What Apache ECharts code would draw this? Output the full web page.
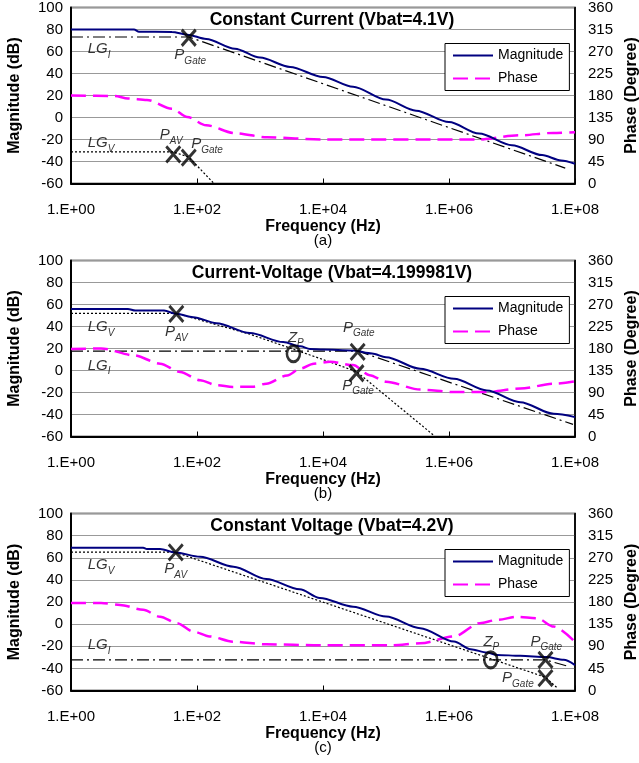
<!DOCTYPE html>
<html><head><meta charset="utf-8">
<script src="https://cdn.jsdelivr.net/npm/echarts@6/dist/echarts.min.js"></script>
<style>html,body{margin:0;padding:0;background:#fff}#c{width:639px;height:763px}</style>
</head><body><div id="c"></div>
<script>
// ---- tick labels ----
const xTickLabels = ['1.E+00','1.E+02','1.E+04','1.E+06','1.E+08'];
const panelTitles = ['Constant Current (Vbat=4.1V)','Current-Voltage (Vbat=4.199981V)','Constant Voltage (Vbat=4.2V)'];
const panelTags = ['(a)','(b)','(c)'];

// ---- panel (a) ----
const magA = [[1,80],[10,80],[12,78],[40,77.8],[70,75.3],[140,71.4],[400,62.5],[1e3,54.5],[3e3,46],[1e4,36.8],[3e4,28],[1e5,16.3],[3e5,6.2],[1e6,-4.2],[3e6,-14.6],[1e7,-25.3],[3e7,-34.2],[6e7,-39],[1e8,-42]];
const phA = [[1,180],[5,179],[8,174],[16,171],[40,153],[70,136],[140,119],[400,103],[1300,94.5],[1e4,90],[3e6,90],[1.3e7,98.5],[4.5e7,103.5],[1e8,105]];
const lgIA = [[1,73.2],[74,73.2],[7e7,-46]];
const lgVA = [[1,-31.3],[42,-31.3],[74,-36],[186,-60]];
const xMarkA = [[74,72.5],[42,-33.5],[74,-36.5]];
const oMarkA = [];
const labelsA = [['LG','I',2.8,62],['P','Gate',78,57],['LG','V',3,-23.4],['P','AV',39,-16],['P','Gate',144,-24.3]];

// ---- panel (b) ----
const magB = [[1,56],[8,56],[10.5,54.5],[30,54.5],[47,51.5],[87,48.5],[204,43],[692,34],[2340,25.8],[4370,22],[6200,19.6],[1e4,19],[3e4,18.2],[6e4,15.5],[1e5,12.1],[3.5e5,1.5],[1.2e6,-7.6],[4e6,-18.2],[1.35e7,-28.8],[4.6e7,-39.4],[1e8,-42.4]];
const phB = [[1,179],[3,180],[10,166],[26,149],[54,132],[112,115],[204,105],[372,101.5],[776,102],[1260,108],[2700,125],[4400,139],[7100,149],[1.3e4,153],[3e4,146],[5.5e4,125.5],[1e5,112],[3.5e5,96],[1.2e6,91],[4e6,91],[1.35e7,98],[4.6e7,108],[1e8,113]];
const lgVB = [[1,52],[47,52],[692,33],[8900,11],[3.4e4,-1],[5.75e5,-59]];
const lgIB = [[1,17.6],[3.6e4,17.6],[9.3e7,-49]];
const xMarkB = [[47,51.5],[3.55e4,17],[3.4e4,-2.5]];
const oMarkB = [[3390,15.2]];
const labelsB = [['LG','V',3,39.4],['P','AV',47,34.8],['LG','I',2.8,4.5],['Z','P',3700,30],['P','Gate',3.7e4,39],['P','Gate',3.6e4,-13.6]];

// ---- panel (c) ----
const magC = [[1,69],[14,69],[16,67.8],[26,67.8],[45,64.8],[112,60.9],[380,51.9],[1260,40.8],[4270,31.5],[8900,23.7],[3e4,15.8],[1e5,6.8],[3.5e5,-3.7],[1.2e6,-15.8],[2.2e6,-22.6],[4e6,-25.7],[5.8e6,-27.8],[1.35e7,-28.7],[3.5e7,-29.8],[6.6e7,-32.3],[1e8,-37]];
const phC = [[1,178],[3,178],[6,174],[14,164],[26,150],[48,137],[87,120],[158,110],[372,99.4],[1260,94],[8900,92],[1.26e5,92],[3.5e5,96],[1.2e6,110],[3.1e6,137],[5.8e6,143.5],[1.2e7,150],[2.5e7,147],[4.6e7,130],[1e8,99]];
const lgVC = [[1,65],[45,65],[3.4e7,-48],[5.3e7,-58]];
const lgIC = [[1,-32.3],[3.4e7,-32.3],[7.6e7,-38]];
const xMarkC = [[46,64.8],[3.4e7,-32.3],[3.4e7,-48.8]];
const oMarkC = [[4.6e6,-32.3]];
const labelsC = [['LG','V',3,53.4],['P','AV',46,49.8],['LG','I',2.8,-18.8],['Z','P',4.7e6,-15.8],['P','Gate',3.5e7,-15.8],['P','Gate',1.24e7,-48.5]];

const panels = [
  {mag:magA, ph:phA, lgI:lgIA, lgV:lgVA, xm:xMarkA, om:oMarkA, lab:labelsA},
  {mag:magB, ph:phB, lgI:lgIB, lgV:lgVB, xm:xMarkB, om:oMarkB, lab:labelsB},
  {mag:magC, ph:phC, lgI:lgIC, lgV:lgVC, xm:xMarkC, om:oMarkC, lab:labelsC}
];

const FONT = 'Liberation Sans, Arial, sans-serif';
const tops = [7.5, 260.5, 513.5];
const heights = [176, 176, 177];
const grids = [], xAxes = [], yAxes = [], series = [], legends = [], graphics = [];

panels.forEach((p, i) => {
  grids.push({left:71, width:504, top:tops[i], height:heights[i], show:true, borderColor:'#000', borderWidth:1.5,
    backgroundColor:'transparent', containLabel:false, outerBoundsMode:'none'});
  xAxes.push({
    type:'log', gridIndex:i, min:1, max:1e8, logBase:10, interval:2, splitNumber:4,
    name:'Frequency (Hz)', nameLocation:'middle', nameGap:35,
    nameTextStyle:{fontFamily:FONT, fontWeight:'bold', fontSize:16, color:'#000'},
    axisLine:{onZero:false, lineStyle:{color:'#000', width:2}},
    axisTick:{show:true, inside:true, length:5, lineStyle:{color:'#000', width:1}},
    minorTick:{show:false}, splitLine:{show:false}, minorSplitLine:{show:false},
    axisLabel:{fontFamily:FONT, fontSize:15, color:'#000', margin:19,
      formatter:(v)=>xTickLabels[Math.round(Math.log10(v)/2)]}
  });
  yAxes.push({
    type:'value', gridIndex:i, position:'left', min:-60, max:100, interval:20,
    name:'Magnitude (dB)', nameLocation:'middle', nameRotate:90, nameGap:48,
    nameTextStyle:{fontFamily:FONT, fontWeight:'bold', fontSize:16, color:'#000'},
    axisLine:{show:true, onZero:false, lineStyle:{color:'#000', width:2}},
    axisTick:{show:false},
    splitLine:{show:true, lineStyle:{color:'#999', width:1}},
    axisLabel:{fontFamily:FONT, fontSize:15, color:'#000', margin:8}
  });
  yAxes.push({
    type:'value', gridIndex:i, position:'right', min:0, max:360, interval:45,
    name:'Phase (Degree)', nameLocation:'middle', nameRotate:90, nameGap:48,
    nameTextStyle:{fontFamily:FONT, fontWeight:'bold', fontSize:16, color:'#000'},
    axisLine:{show:true, onZero:false, lineStyle:{color:'#000', width:1.5}},
    axisTick:{show:false}, splitLine:{show:false},
    axisLabel:{fontFamily:FONT, fontSize:15, color:'#000', margin:13}
  });
  const yl = i*2, yr = i*2+1;
  series.push({type:'line', name:'LGI', xAxisIndex:i, yAxisIndex:yl, data:p.lgI, symbol:'none', silent:true,
    lineStyle:{color:'#000', width:1.2, type:[12,4,2,4]}, z:3});
  series.push({type:'line', name:'LGV', xAxisIndex:i, yAxisIndex:yl, data:p.lgV, symbol:'none', silent:true,
    lineStyle:{color:'#000', width:1.2, type:[2,2]}, z:3});
  series.push({type:'line', name:'Phase', xAxisIndex:i, yAxisIndex:yr, data:p.ph, symbol:'none', smooth:0.3, smoothMonotone:'x',
    lineStyle:{color:'#ff00ff', width:2.5, type:[15,7]}, itemStyle:{color:'#ff00ff', opacity:0}, z:4});
  series.push({type:'line', name:'Magnitude', xAxisIndex:i, yAxisIndex:yl, data:p.mag, symbol:'none', smooth:0.3, smoothMonotone:'x',
    lineStyle:{color:'#000080', width:2}, itemStyle:{color:'#000080', opacity:0}, z:5});
  series.push({type:'scatter', name:'X', xAxisIndex:i, yAxisIndex:yl, data:p.xm,
    symbol:'path://M0,0L10,10M10,0L0,10', symbolSize:[14,16],
    itemStyle:{color:'none', borderColor:'#000', borderWidth:3}, z:6});
  if (p.om.length) series.push({type:'scatter', name:'O', xAxisIndex:i, yAxisIndex:yl, data:p.om,
    symbol:'circle', symbolSize:[13,16],
    itemStyle:{color:'none', borderColor:'#000', borderWidth:2.8}, z:6});
  series.push({type:'scatter', name:'lab', xAxisIndex:i, yAxisIndex:yl,
    data:p.lab.map(l=>({value:[l[2],l[3]], t:l[0], s:l[1]})),
    symbolSize:1, itemStyle:{color:'transparent'}, z:7,
    label:{show:true, position:'inside',
      formatter:(d)=>'{m|'+d.data.t+'}{s|'+d.data.s+'}',
      rich:{
        m:{fontFamily:FONT, fontStyle:'italic', fontSize:15, color:'#000', verticalAlign:'middle', lineHeight:18},
        s:{fontFamily:FONT, fontStyle:'italic', fontSize:10, color:'#000', verticalAlign:'bottom', lineHeight:22}
      }}});
  legends.push({
    data:['Magnitude','Phase'], orient:'vertical', left:445, top:tops[i]+36,
    backgroundColor:'#fff', borderColor:'#000', borderWidth:1, borderRadius:0,
    padding:[5,6,5,7], itemWidth:40, itemHeight:14, itemGap:9,
    itemStyle:{opacity:0},
    textStyle:{fontFamily:FONT, fontSize:14, color:'#000'}, selectedMode:false
  });
  graphics.push({type:'text', x:332, y:tops[i]+13, silent:true,
    style:{text:panelTitles[i], font:'bold 17.5px '+FONT, fill:'#000', align:'center', verticalAlign:'middle'}});
  graphics.push({type:'text', x:323, y:tops[i]+heights[i]+57, silent:true,
    style:{text:panelTags[i], font:'15px '+FONT, fill:'#000', align:'center', verticalAlign:'middle'}});
});

const chart = echarts.init(document.getElementById('c'), null, {renderer:'canvas'});
chart.setOption({
  animation:false, backgroundColor:'#fff',
  grid:grids, xAxis:xAxes, yAxis:yAxes, series:series, legend:legends, graphic:graphics
});
</script></body></html>
